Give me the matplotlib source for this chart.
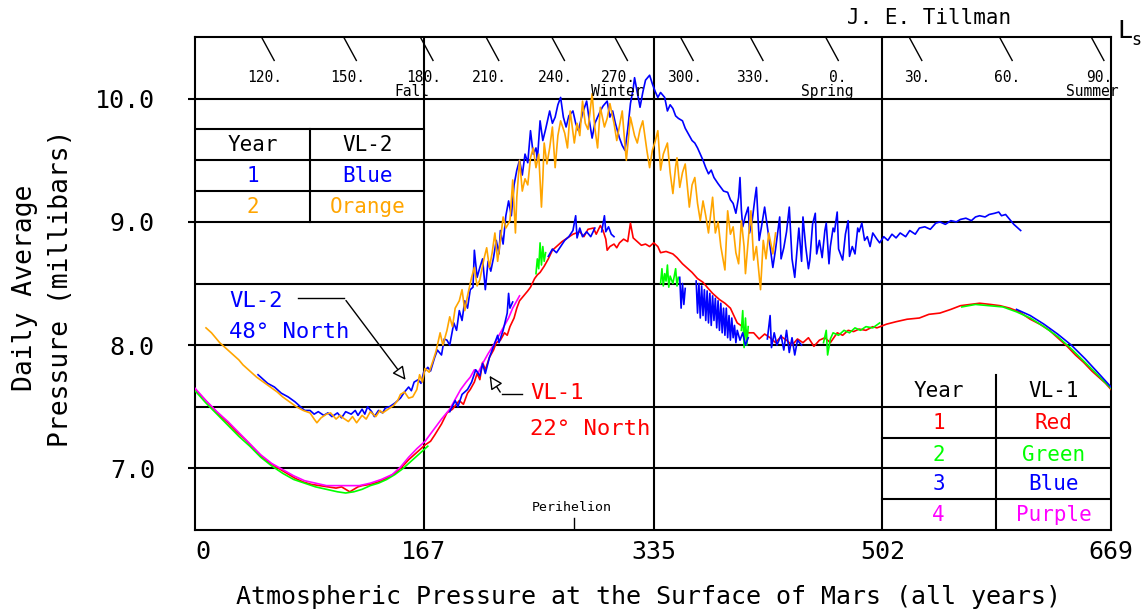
'''
 Daily average surface pressure at the two Viking landers (all years)
'''
import matplotlib
matplotlib.use('Agg')
import matplotlib.pyplot as plt   # We import the plotting library

plt.rcParams['font.family'] = 'DejaVu Sans Mono'

# ---------------------------------------------------------------- data
# Viking Lander 2 (48 N), year 1 (blue)
vl2_y1_sol = [46, 50, 53, 58, 63, 68, 73, 77, 80, 84, 87, 90, 94, 97, 100, 104, 107, 110, 114, 117,
              119, 122, 124, 126, 129, 131, 134, 137, 139, 142, 146, 150, 153, 156, 158, 160, 163, 165,
              167, 170, 172, 175, 177, 180, 182, 184, 186, 189, 191, 193, 195, 197, 199, 201, 203, 204,
              206, 208, 210, 212, 214, 216, 218, 220, 222, 223, 225, 227, 229, 231, 233, 235, 237, 239,
              241, 243, 245, 247, 249, 250, 252, 254, 256, 259, 261, 263, 265, 267, 269, 271, 273, 276,
              278, 280, 283, 286, 288, 290, 292, 294, 296, 298, 301, 303, 305, 307, 310, 312, 314, 316,
              318, 320, 321, 323, 325, 327, 329, 332, 334, 336, 338, 340, 343, 345, 347, 349, 351, 353,
              356, 358, 360, 363, 365, 367, 369, 371, 373, 375, 377, 379, 382, 384, 386, 389, 391, 393,
              395, 397, 398, 399, 400, 402, 404, 405, 407, 409, 410, 412, 414, 416, 418, 420, 422, 424,
              427, 428, 430, 432, 434, 436, 438, 440, 441, 443, 444, 446, 448, 449, 451, 453, 454, 456,
              458, 460, 461, 463, 464, 466, 467, 469, 470, 471, 473, 475, 477, 478, 480, 482, 484, 485,
              487, 489, 491, 493, 495, 498, 500, 503, 506, 509, 512, 515, 519,
              522, 526, 529, 533, 537, 541, 544, 548, 552, 556, 559, 563, 567, 570, 573, 577, 580, 584,
              587, 589, 592, 595, 598, 601, 603]
vl2_y1_p = [7.76, 7.72, 7.69, 7.66, 7.61, 7.58, 7.54, 7.50, 7.47, 7.47, 7.44, 7.46, 7.43, 7.45, 7.42, 7.45,
            7.41, 7.46, 7.44, 7.47, 7.43, 7.48, 7.44, 7.50, 7.46, 7.42, 7.47, 7.45, 7.49, 7.50, 7.53, 7.57,
            7.62, 7.66, 7.63, 7.70, 7.72, 7.69, 7.78, 7.82, 7.79, 7.90, 7.96, 7.92, 8.05, 8.04, 8.00, 8.18,
            8.12, 8.28, 8.20, 8.36, 8.30, 8.45, 8.47, 8.77, 8.55, 8.63, 8.70, 8.45, 8.68, 8.60, 8.71, 8.85,
            8.74, 8.93, 8.82, 9.05, 9.17, 9.05, 9.30, 9.42, 9.50, 9.38, 9.55, 9.48, 9.74, 9.55, 9.60, 9.50,
            9.82, 9.66, 9.75, 9.90, 9.80, 9.85, 9.95, 10.01, 9.85, 9.77, 9.86, 9.90, 9.80, 9.74, 9.88, 9.98,
            9.82, 9.68, 9.80, 9.85, 9.90, 9.94, 9.98, 9.85, 9.90, 9.80, 9.68, 9.62, 9.58, 9.75, 9.96, 10.08,
            10.17, 10.05, 9.93, 10.05, 10.15, 10.19, 10.12, 10.06, 10.01, 10.05, 10.01, 9.90, 9.95, 9.92,
            9.86, 9.84, 9.82, 9.76, 9.72, 9.66, 9.64, 9.60, 9.55, 9.50, 9.44, 9.39, 9.42, 9.36, 9.31, 9.28,
            9.25, 9.24, 9.18, 9.15, 9.07, 9.20, 9.36, 9.10, 8.96, 9.05, 9.12, 8.91, 9.02, 9.20, 9.28, 8.85,
            8.98, 9.12, 8.96, 8.80, 8.63, 8.78,
            9.04, 8.70, 8.79, 8.92, 9.12, 8.70, 8.55, 8.82, 8.95, 8.68, 9.04, 8.80, 8.62, 8.69, 8.98, 9.07,
            8.74, 8.85, 8.71, 8.93, 8.99, 8.66, 8.80, 8.95, 8.92, 9.08, 8.78, 8.75, 8.69, 8.90, 9.01, 8.72,
            8.80, 8.74, 8.95, 8.92, 8.99, 8.85, 8.88,
            8.80, 8.91, 8.86, 8.83, 8.88, 8.85, 8.90, 8.87, 8.91, 8.88, 8.93, 8.90, 8.95, 8.96, 8.94, 8.99,
            9.00, 8.98, 9.01, 9.00, 9.02, 9.03, 9.01, 9.04, 9.05, 9.04, 9.06, 9.07, 9.08, 9.05, 9.06, 9.02,
            8.98, 8.95, 8.93]

# Viking Lander 2, year 2 (orange)
vl2_y2_sol = [8, 12, 18, 23, 28, 32, 35, 40, 45, 50, 55, 60, 64, 69, 74, 79, 84, 87, 89, 92, 96, 99, 103,
              106, 108, 112, 115, 118, 122, 125, 128, 132, 135, 137, 141, 145, 148, 150, 153, 156, 159, 162,
              164, 166, 168, 171, 174, 176, 179, 181, 184, 186, 188, 190, 193, 195, 197, 199, 202, 204, 206,
              208, 211, 213, 215, 217, 219, 221, 223, 225, 227, 230, 232, 234, 235, 237, 239, 241, 243, 245,
              247, 249, 251, 253, 254, 255, 257, 259, 261, 263, 265, 267, 270, 272, 274, 277, 279, 281, 283,
              285, 287, 290, 292, 294, 296, 299, 301, 303, 306, 308, 310, 312, 314, 315, 318, 321, 323, 325,
              327, 330, 332, 334, 336, 338, 340, 342, 345, 347, 349, 351, 352, 354, 356, 358, 361, 363, 365,
              367, 369, 371, 373, 375, 378, 380, 382, 384, 387, 389, 391, 393, 395, 397, 399, 401, 402, 404,
              406, 408, 410, 413, 415, 417, 419, 421, 422, 424]
vl2_y2_p = [8.14, 8.10, 8.02, 7.97, 7.92, 7.88, 7.84, 7.79, 7.74, 7.70, 7.66, 7.62, 7.58, 7.54, 7.50, 7.47,
            7.45, 7.40, 7.37, 7.41, 7.44, 7.45, 7.40, 7.43, 7.41, 7.38, 7.42, 7.37, 7.43, 7.40, 7.46, 7.42,
            7.47, 7.45, 7.48, 7.51, 7.55, 7.60, 7.62, 7.57, 7.58, 7.64, 7.76, 7.70, 7.81, 7.78, 7.88, 7.95,
            8.10, 8.00, 8.12, 8.23, 8.15, 8.30, 8.36, 8.45, 8.28, 8.40, 8.55, 8.63, 8.48, 8.53, 8.70, 8.79,
            8.63, 8.75, 8.91, 8.68, 8.85, 9.04, 8.95, 9.01, 9.34, 8.91, 9.20, 9.50, 9.25, 9.35, 9.30, 9.52,
            9.60, 9.44, 9.55, 9.12, 9.35, 9.64, 9.47, 9.60, 9.77, 9.44, 9.70, 9.82, 9.72, 9.60, 9.90, 9.64,
            9.80, 9.70, 9.98, 9.80, 9.75, 10.04, 9.76, 9.60, 9.93, 9.77, 9.84, 9.96, 9.80, 9.66, 9.78, 9.90,
            9.62, 9.50, 9.85, 9.70, 9.64, 9.75, 9.82, 9.58, 9.44, 9.58, 9.65, 9.74, 9.42, 9.55, 9.64, 9.40,
            9.23, 9.45, 9.52, 9.28, 9.40, 9.47, 9.12, 9.30, 9.36, 9.15, 9.01, 9.17, 9.05, 8.91, 9.20, 8.91,
            9.00, 8.80, 8.61, 9.09, 8.90, 8.96, 8.75, 8.66, 9.01, 8.80, 8.58, 8.85, 9.09, 8.69, 8.80, 8.45,
            8.85, 8.70, 8.91, 8.80, 8.74, 8.91]

# Viking Lander 1 (22 N), year 1 (red), whole year
vl1_y1_sol = [0, 6, 12, 18, 24, 30, 37, 43, 49, 55, 61, 67, 73, 79, 85, 91, 97, 103, 107, 110, 113, 116,
              119, 122, 128, 134, 140, 146, 151, 156, 162, 168, 172, 175, 180, 184, 188, 193, 196, 199, 201,
              204, 206, 208, 210, 212, 215, 218, 220, 223, 226, 228, 230, 233, 235, 237, 240, 243, 245, 248,
              250, 252, 255, 258, 261, 264, 268, 272, 276, 281, 284, 287, 291, 293, 296, 298, 300, 301, 303,
              306, 308, 310, 313, 316, 318, 320, 323, 326, 329, 332, 335, 338, 340, 344, 349, 352, 356, 359,
              363, 367, 371, 374, 378, 383, 387, 391, 396, 400, 404, 408, 412, 416, 420, 424, 428, 432, 436,
              440, 444, 448, 452, 456, 460, 464, 469, 473, 477, 481, 485, 490, 495, 498, 505, 512, 520, 529,
              536, 544, 552, 559, 566, 573, 581, 588, 595, 602, 610, 617, 624, 630, 637, 643, 649, 655, 661,
              665, 669]
vl1_y1_p = [7.64, 7.57, 7.50, 7.43, 7.37, 7.30, 7.23, 7.16, 7.09, 7.04, 7.00, 6.96, 6.92, 6.89, 6.87, 6.86,
            6.85, 6.84, 6.85, 6.83, 6.81, 6.83, 6.85, 6.86, 6.87, 6.89, 6.92, 6.96, 7.01, 7.07, 7.13, 7.19,
            7.22, 7.27, 7.36, 7.45, 7.48, 7.55, 7.52, 7.61, 7.64, 7.70, 7.77, 7.72, 7.86, 7.80, 7.90, 7.96,
            8.02, 8.04, 8.10, 8.08, 8.15, 8.22, 8.30, 8.36, 8.40, 8.44, 8.47, 8.54, 8.57, 8.59, 8.64, 8.70,
            8.77, 8.80, 8.84, 8.87, 8.90, 8.92, 8.88, 8.94, 8.95, 8.90, 8.97, 8.93, 8.86, 8.77, 8.80, 8.82,
            8.79, 8.83, 8.86, 8.84, 8.99, 8.87, 8.84, 8.81, 8.82, 8.80, 8.83, 8.80, 8.75, 8.76, 8.74, 8.71,
            8.66, 8.63, 8.59, 8.54, 8.51, 8.47, 8.42, 8.37, 8.34, 8.30, 8.18, 8.15, 8.10, 8.10, 8.05, 8.09,
            8.06, 8.02, 8.07, 8.04, 8.00, 8.05, 8.02, 8.06, 7.99, 8.04, 8.06, 8.02, 8.10, 8.08, 8.12, 8.11,
            8.13, 8.12, 8.15, 8.14, 8.17, 8.19, 8.21, 8.22, 8.25, 8.26, 8.29, 8.32, 8.33, 8.34, 8.33, 8.32,
            8.30, 8.27, 8.21, 8.17, 8.12, 8.06, 7.99, 7.92, 7.86, 7.79, 7.73, 7.69, 7.64]

# Viking Lander 1, year 2 (green), pieces of the record
vl1_y2_sol = [[0, 8, 16, 24, 32, 40, 48, 56, 64, 72, 80, 88, 96, 104, 110, 116, 122, 128, 134, 140, 146,
               152, 158, 164, 170],
              [249, 250, 251, 252, 253, 254, 255, 256],
              [340, 341, 342, 343, 344, 345, 346, 347, 349, 351, 352, 353],
              [399, 400, 401, 402, 403, 404],
              [459, 461, 462, 464, 466, 470, 474, 478, 482, 486, 490, 495, 500],
              [560, 570, 580, 590, 600, 610, 620, 630, 640, 650, 660, 669]]
vl1_y2_p = [[7.63, 7.53, 7.44, 7.35, 7.26, 7.18, 7.09, 7.02, 6.96, 6.91, 6.88, 6.85, 6.83, 6.81, 6.80, 6.81,
             6.83, 6.86, 6.88, 6.91, 6.95, 7.00, 7.06, 7.12, 7.18],
            [8.58, 8.70, 8.62, 8.83, 8.65, 8.80, 8.68, 8.75],
            [8.50, 8.62, 8.48, 8.58, 8.52, 8.65, 8.47, 8.56, 8.50, 8.62, 8.48, 8.55],
            [8.12, 8.28, 7.98, 8.22, 8.00, 8.15],
            [8.02, 8.12, 7.92, 8.05, 8.10, 8.08, 8.12, 8.10, 8.14, 8.12, 8.15, 8.14, 8.18],
            [8.31, 8.33, 8.32, 8.31, 8.27, 8.22, 8.15, 8.07, 7.97, 7.86, 7.75, 7.65]]

# Viking Lander 1, year 3 (blue), pieces of the record
vl1_y3_sol = [[186, 190, 192, 195, 199, 202, 205, 208, 210, 212, 215, 219, 221, 222, 225, 228, 229, 230, 232],
              [258, 261, 264, 267, 270, 273, 276, 278, 279, 281, 283, 286, 289, 292],
              [297, 299, 300, 302, 304, 306],
              [354, 355, 356, 357, 358],
              [366, 367, 368, 369, 370, 371, 372, 373, 374, 375, 376, 377, 378, 379, 380, 381, 382, 383,
               384, 385, 386, 387, 388, 389, 390, 391, 392, 393, 394, 395, 396, 398, 400, 402, 404],
              [418, 420, 421, 423, 425, 428, 430, 432, 434, 436, 438, 440, 443],
              [600, 610, 620, 630, 640, 650, 660, 669]]
vl1_y3_p = [[7.46, 7.55, 7.50, 7.60, 7.64, 7.70, 7.80, 7.75, 7.85, 7.77, 7.90, 8.02, 8.08, 8.02, 8.12, 8.26,
             8.42, 8.30, 8.35],
            [8.72, 8.78, 8.75, 8.80, 8.85, 8.88, 8.93, 9.05, 8.87, 8.95, 8.88, 8.92, 8.88, 8.95],
            [8.92, 9.05, 8.92, 8.96, 8.90, 8.88],
            [8.55, 8.30, 8.50, 8.33, 8.46],
            [8.52, 8.26, 8.50, 8.22, 8.48, 8.24, 8.45, 8.20, 8.44, 8.18, 8.42, 8.16, 8.40, 8.20, 8.38, 8.14,
             8.36, 8.12, 8.34, 8.10, 8.30, 8.08, 8.30, 8.06, 8.24, 8.04, 8.22, 8.06, 8.16, 8.02, 8.12, 8.04,
             8.10, 8.00, 8.06],
            [8.05, 8.24, 7.98, 8.10, 8.00, 8.08, 7.96, 8.12, 7.94, 8.06, 7.92, 8.04, 8.00],
            [8.29, 8.24, 8.17, 8.09, 8.00, 7.89, 7.77, 7.66]]

# Viking Lander 1, year 4 (purple)
vl1_y4_sol = [0, 8, 16, 24, 32, 40, 48, 56, 64, 72, 80, 88, 96, 104, 112, 120, 128, 136, 144, 150, 156,
              162, 168, 174, 180, 186, 190, 194, 198, 201, 204, 207, 210, 214, 218, 222, 226, 229, 232, 235, 237]
vl1_y4_p = [7.65, 7.55, 7.46, 7.38, 7.29, 7.20, 7.11, 7.04, 6.99, 6.94, 6.90, 6.88, 6.86, 6.86, 6.86, 6.86,
            6.88, 6.91, 6.95, 7.01, 7.09, 7.16, 7.22, 7.31, 7.40, 7.48, 7.56, 7.64, 7.70, 7.74, 7.80, 7.78,
            7.85, 7.93, 8.00, 8.08, 8.16, 8.22, 8.30, 8.36, 8.40]

# Areocentric longitude (Ls) marks along the top, and the sol where each one falls
ls_labels = ['120.', '150.', '180.', '210.', '240.', '270.', '300.', '330.', '0.', '30.', '60.', '90.']
ls_sols = [49, 109, 165, 213, 261, 307, 355, 406, 461, 522, 588, 655]
season_names = ['Fall', 'Winter', 'Spring', 'Summer']
season_sols = [158, 308, 462, 655]

sol_ticks = [0, 167, 335, 502, 669]
p_ticks = [7.0, 8.0, 9.0, 10.0]
p_grid = [7.0, 7.5, 8.0, 8.5, 9.0, 9.5, 10.0]
perihelion_sol = 277

BLUE, ORANGE, RED, GREEN, PURPLE = '#0000FF', '#FFA500', '#FF0000', '#00FF00', '#FF00FF'

# ---------------------------------------------------------------- figure
fig = plt.figure(figsize=(11.48, 6.12), dpi=100)
ax = fig.add_axes([0.1699, 0.1340, 0.7979, 0.8055])
ax.set_xlim(0, 669)
ax.set_ylim(6.5, 10.5)

# Grid lines of the chart
for p in p_grid:
    ax.axhline(p, color='black', linewidth=1.5, zorder=1)
for s in sol_ticks[1:-1]:
    ax.axvline(s, color='black', linewidth=1.5, zorder=1)

# VL-2 curves
ax.plot(vl2_y1_sol, vl2_y1_p, color=BLUE, linewidth=1.2, zorder=3)
ax.plot(vl2_y2_sol, vl2_y2_p, color=ORANGE, linewidth=1.2, zorder=3)

# VL-1 curves
ax.plot(vl1_y1_sol, vl1_y1_p, color=RED, linewidth=1.2, zorder=3)
for xs, ys in zip(vl1_y2_sol, vl1_y2_p):
    ax.plot(xs, ys, color=GREEN, linewidth=1.2, zorder=3)
ax.plot(vl1_y4_sol, vl1_y4_p, color=PURPLE, linewidth=1.2, zorder=3)
for xs, ys in zip(vl1_y3_sol, vl1_y3_p):
    ax.plot(xs, ys, color=BLUE, linewidth=1.2, zorder=3)

# Ls marks on top
for lab, s in zip(ls_labels, ls_sols):
    ax.plot([s, s + 8.8], [10.49, 10.31], color='black', linewidth=1)
    ax.text(s + 15, 10.17, lab, fontsize=10.5, ha='right', va='center')
for lab, s in zip(season_names, season_sols):
    ax.text(s, 10.0, lab, fontsize=10.5, ha='center', va='bottom')

# Perihelion mark
ax.plot([perihelion_sol, perihelion_sol], [6.5, 6.6], color='black', linewidth=1)
ax.text(perihelion_sol - 2, 6.63, 'Perihelion', fontsize=9.5, ha='center', va='bottom')

# Table for VL-2 (upper left)
ax.plot([0, 167], [9.75, 9.75], color='black', linewidth=1.5)
ax.plot([0, 167], [9.25, 9.25], color='black', linewidth=1.5)
ax.plot([84, 84], [9.0, 9.75], color='black', linewidth=1.5)
ax.text(42, 9.62, 'Year', fontsize=15, ha='center', va='center')
ax.text(126, 9.62, 'VL-2', fontsize=15, ha='center', va='center')
ax.text(42, 9.37, '1', fontsize=15, ha='center', va='center', color=BLUE)
ax.text(126, 9.37, 'Blue', fontsize=15, ha='center', va='center', color=BLUE)
ax.text(42, 9.12, '2', fontsize=15, ha='center', va='center', color=ORANGE)
ax.text(126, 9.12, 'Orange', fontsize=15, ha='center', va='center', color=ORANGE)

# Table for VL-1 (lower right)
ax.plot([502, 669], [7.25, 7.25], color='black', linewidth=1.5)
ax.plot([502, 669], [6.75, 6.75], color='black', linewidth=1.5)
ax.plot([585, 585], [6.5, 7.76], color='black', linewidth=1.5)
table_rows = [('Year', 'VL-1', 'black'), ('1', 'Red', RED), ('2', 'Green', GREEN),
              ('3', 'Blue', BLUE), ('4', 'Purple', PURPLE)]
row_y = [7.63, 7.37, 7.11, 6.87, 6.62]
for (a, b, c), y in zip(table_rows, row_y):
    ax.text(543, y, a, fontsize=15, ha='center', va='center', color=c)
    ax.text(627, y, b, fontsize=15, ha='center', va='center', color=c)

# Station labels with their arrows
arrow = dict(arrowstyle='-|>', fc='white', ec='black', linewidth=1, mutation_scale=20)
ax.plot([75, 109], [8.38, 8.38], color='black', linewidth=1)
ax.annotate('', xy=(155, 7.70), xytext=(109, 8.38), arrowprops=arrow)
ax.text(25, 8.36, 'VL-2', fontsize=16, color=BLUE, ha='left', va='center')
ax.text(25, 8.11, '48\u00b0 North', fontsize=16, color=BLUE, ha='left', va='center')

ax.plot([224, 239], [7.60, 7.60], color='black', linewidth=1)
ax.annotate('', xy=(214, 7.77), xytext=(224, 7.60), arrowprops=arrow)
ax.text(245, 7.61, 'VL-1', fontsize=16, color=RED, ha='left', va='center')
ax.text(245, 7.32, '22\u00b0 North', fontsize=16, color=RED, ha='left', va='center')

# Axes look
for side in ax.spines.values():
    side.set_linewidth(1.5)
ax.set_xticks(sol_ticks)
ax.set_xticklabels([str(s) for s in sol_ticks])
ax.set_yticks(p_ticks)
ax.set_yticklabels(['%.1f' % p for p in p_ticks])
ax.tick_params(axis='x', length=0, pad=7, labelsize=18)
ax.tick_params(axis='y', length=5, width=1.5, pad=24, labelsize=18)
ax.get_xticklabels()[0].set_horizontalalignment('left')

# Texts around the frame
fig.text(43 / 1148, 1 - 288 / 612, 'Daily Average\nPressure (millibars)', rotation=90,
         fontsize=19, ha='center', va='center', multialignment='center', linespacing=1.5)
fig.text(648 / 1148, 1 - 597 / 612, 'Atmospheric Pressure at the Surface of Mars (all years)',
         fontsize=18, ha='center', va='center')
fig.text(929 / 1148, 1 - 18 / 612, 'J. E. Tillman', fontsize=15, ha='center', va='center')
fig.text(1117 / 1148, 1 - 38 / 612, 'L', fontsize=18, ha='left', va='baseline')
fig.text(1131 / 1148, 1 - 45 / 612, 's', fontsize=12, ha='left', va='baseline')

fig.savefig('out.png', dpi=100)
